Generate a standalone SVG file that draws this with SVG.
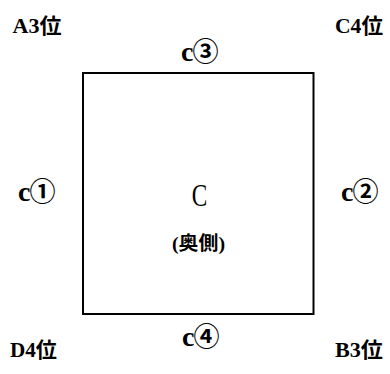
<svg xmlns="http://www.w3.org/2000/svg" width="390" height="374" viewBox="0 0 390 374">
<style>
.t{font-family:"Liberation Serif","Noto Sans CJK JP",serif;font-weight:bold;font-size:21px;fill:#000}
.n{font-family:"Liberation Serif","Noto Sans CJK JP",serif;font-weight:bold;font-size:28px;fill:#000}
.d{font-family:"Noto Sans CJK JP",sans-serif;font-weight:bold;font-size:26px}
.c{font-family:"Liberation Serif","Noto Sans CJK JP",serif;font-size:31px;fill:#000}
.s{font-family:"Liberation Serif","Noto Sans CJK JP",serif;font-weight:bold;font-size:19px;fill:#000}
</style>
<rect width="390" height="374" fill="#fff"/>
<g id="box">
<rect x="83" y="73" width="230.5" height="241" fill="none" stroke="#000" stroke-width="2"/>
<text class="c" transform="translate(199.5 206) scale(0.75 1)" x="0" y="0" text-anchor="middle">C</text>
<text class="s" x="172" y="250" textLength="53" lengthAdjust="spacingAndGlyphs">(奥側)</text>
</g>
<g id="corners">
<text class="t" x="12.5" y="33" textLength="49" lengthAdjust="spacingAndGlyphs">A3位</text>
<text class="t" x="335" y="33" textLength="48" lengthAdjust="spacingAndGlyphs">C4位</text>
<text class="t" x="10" y="357" textLength="47" lengthAdjust="spacingAndGlyphs">D4位</text>
<text class="t" x="335" y="357" textLength="48" lengthAdjust="spacingAndGlyphs">B3位</text>
</g>
<g id="sides">
<text class="n" x="181" y="61">c<tspan class="d" dx="-1">③</tspan></text>
<text class="n" x="18" y="201">c<tspan class="d" dx="-1">①</tspan></text>
<text class="n" x="341" y="201">c<tspan class="d" dx="-1">②</tspan></text>
<text class="n" x="182" y="346">c<tspan class="d" dx="-1">④</tspan></text>
</g>
</svg>
